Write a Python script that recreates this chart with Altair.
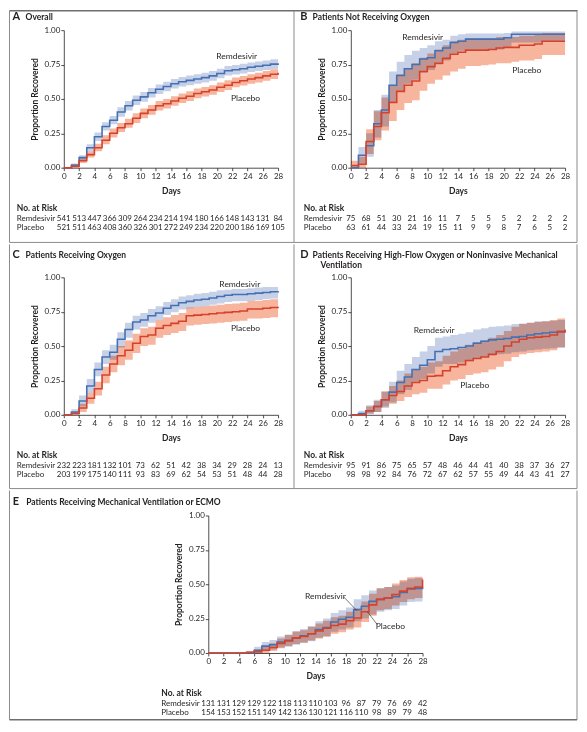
import altair as alt
import pandas as pd

DAYS = list(range(29))
RISK_DAYS = list(range(0, 29, 2))
X_TICKS = list(range(0, 29, 2))
Y_TICKS = [0.0, 0.25, 0.5, 0.75, 1.0]

# ---------- Panel A: Overall ----------
A_REM = [0, 0.02, 0.073, 0.145, 0.225, 0.30, 0.345, 0.405, 0.45, 0.49, 0.515, 0.545, 0.57, 0.59, 0.61,
         0.625, 0.635, 0.645, 0.655, 0.668, 0.685, 0.705, 0.712, 0.72, 0.73, 0.738, 0.745, 0.753, 0.76]
A_REM_LO = [0, 0.01, 0.055, 0.12, 0.195, 0.27, 0.315, 0.37, 0.415, 0.455, 0.48, 0.51, 0.535, 0.555, 0.575,
            0.59, 0.60, 0.61, 0.62, 0.633, 0.65, 0.67, 0.677, 0.685, 0.695, 0.703, 0.71, 0.718, 0.725]
A_REM_HI = [0, 0.03, 0.09, 0.17, 0.255, 0.33, 0.375, 0.44, 0.485, 0.525, 0.55, 0.58, 0.605, 0.625, 0.645,
            0.66, 0.67, 0.68, 0.69, 0.703, 0.72, 0.74, 0.747, 0.755, 0.765, 0.773, 0.78, 0.788, 0.795]
A_PLA = [0, 0.01, 0.05, 0.095, 0.145, 0.20, 0.25, 0.29, 0.32, 0.36, 0.395, 0.42, 0.45, 0.465, 0.485,
         0.505, 0.52, 0.54, 0.552, 0.565, 0.585, 0.60, 0.62, 0.632, 0.645, 0.655, 0.668, 0.68, 0.69]
A_PLA_LO = [0, 0.0, 0.035, 0.075, 0.12, 0.17, 0.22, 0.26, 0.29, 0.325, 0.36, 0.385, 0.415, 0.43, 0.45,
            0.47, 0.485, 0.505, 0.517, 0.53, 0.55, 0.565, 0.585, 0.597, 0.61, 0.62, 0.633, 0.645, 0.655]
A_PLA_HI = [0, 0.02, 0.07, 0.12, 0.175, 0.235, 0.285, 0.325, 0.355, 0.395, 0.43, 0.455, 0.485, 0.50, 0.52,
            0.54, 0.555, 0.575, 0.587, 0.60, 0.62, 0.635, 0.655, 0.667, 0.68, 0.69, 0.703, 0.715, 0.725]
A_RISK_REM = [541, 513, 447, 366, 309, 264, 234, 214, 194, 180, 166, 148, 143, 131, 84]
A_RISK_PLA = [521, 511, 463, 408, 360, 326, 301, 272, 249, 234, 220, 200, 186, 169, 105]

# ---------- Panel B: Not receiving oxygen ----------
B_REM = [0, 0.09, 0.16, 0.32, 0.42, 0.60, 0.67, 0.72, 0.75, 0.79, 0.80, 0.85, 0.87, 0.91, 0.92,
         0.935, 0.935, 0.935, 0.935, 0.935, 0.945, 0.97, 0.97, 0.97, 0.97, 0.97, 0.97, 0.97, 0.97]
B_REM_LO = [0, 0.03, 0.08, 0.22, 0.30, 0.48, 0.55, 0.61, 0.64, 0.69, 0.71, 0.75, 0.78, 0.83, 0.85,
            0.86, 0.86, 0.86, 0.86, 0.86, 0.88, 0.91, 0.91, 0.91, 0.91, 0.92, 0.92, 0.92, 0.92]
B_REM_HI = [0, 0.15, 0.25, 0.42, 0.53, 0.70, 0.77, 0.82, 0.85, 0.87, 0.89, 0.92, 0.93, 0.96, 0.97,
            0.975, 0.975, 0.975, 0.975, 0.975, 0.98, 0.99, 0.99, 0.99, 0.99, 0.99, 0.99, 0.99, 0.99]
B_PLA = [0.015, 0.025, 0.19, 0.30, 0.40, 0.475, 0.555, 0.60, 0.63, 0.70, 0.735, 0.76, 0.795, 0.825, 0.84,
         0.855, 0.855, 0.855, 0.86, 0.87, 0.875, 0.875, 0.89, 0.89, 0.90, 0.92, 0.92, 0.92, 0.92]
B_PLA_LO = [0, 0, 0.10, 0.20, 0.27, 0.34, 0.42, 0.47, 0.49, 0.56, 0.61, 0.64, 0.67, 0.70, 0.72,
            0.74, 0.74, 0.745, 0.75, 0.76, 0.76, 0.77, 0.78, 0.78, 0.79, 0.82, 0.82, 0.82, 0.82]
B_PLA_HI = [0.05, 0.08, 0.28, 0.41, 0.51, 0.60, 0.68, 0.72, 0.76, 0.80, 0.83, 0.86, 0.89, 0.92, 0.93,
            0.94, 0.94, 0.94, 0.94, 0.95, 0.95, 0.95, 0.96, 0.96, 0.97, 0.98, 0.98, 0.98, 0.98]
B_RISK_REM = [75, 68, 51, 30, 21, 16, 11, 7, 5, 5, 5, 2, 2, 2, 2]
B_RISK_PLA = [63, 61, 44, 33, 24, 19, 15, 11, 9, 9, 8, 7, 6, 5, 2]

# ---------- Panel C: Receiving oxygen ----------
C_REM = [0, 0.02, 0.10, 0.21, 0.33, 0.42, 0.455, 0.55, 0.62, 0.675, 0.69, 0.72, 0.74, 0.775, 0.795,
         0.815, 0.825, 0.835, 0.84, 0.85, 0.86, 0.87, 0.875, 0.875, 0.88, 0.885, 0.89, 0.895, 0.90]
C_REM_LO = [0, 0.005, 0.06, 0.16, 0.28, 0.37, 0.40, 0.49, 0.56, 0.62, 0.64, 0.67, 0.69, 0.725, 0.745,
            0.765, 0.775, 0.785, 0.79, 0.80, 0.81, 0.82, 0.825, 0.825, 0.83, 0.835, 0.84, 0.845, 0.85]
C_REM_HI = [0, 0.04, 0.14, 0.26, 0.38, 0.47, 0.51, 0.60, 0.67, 0.72, 0.74, 0.77, 0.79, 0.82, 0.84,
            0.86, 0.87, 0.88, 0.885, 0.895, 0.905, 0.91, 0.915, 0.915, 0.92, 0.925, 0.93, 0.93, 0.935]
C_PLA = [0, 0.01, 0.05, 0.12, 0.19, 0.29, 0.37, 0.43, 0.47, 0.52, 0.57, 0.58, 0.63, 0.65, 0.665,
         0.68, 0.72, 0.725, 0.73, 0.735, 0.74, 0.745, 0.75, 0.755, 0.77, 0.77, 0.775, 0.78, 0.785]
C_PLA_LO = [0, 0, 0.02, 0.08, 0.14, 0.23, 0.31, 0.36, 0.40, 0.45, 0.50, 0.51, 0.56, 0.58, 0.595,
            0.61, 0.65, 0.655, 0.66, 0.665, 0.67, 0.675, 0.68, 0.685, 0.70, 0.70, 0.705, 0.71, 0.715]
C_PLA_HI = [0, 0.02, 0.08, 0.16, 0.24, 0.35, 0.43, 0.50, 0.54, 0.59, 0.63, 0.64, 0.69, 0.71, 0.725,
            0.74, 0.78, 0.785, 0.79, 0.795, 0.80, 0.805, 0.81, 0.815, 0.83, 0.83, 0.835, 0.84, 0.845]
C_RISK_REM = [232, 223, 181, 132, 101, 73, 62, 51, 42, 38, 34, 29, 28, 24, 13]
C_RISK_PLA = [203, 199, 175, 140, 111, 93, 83, 69, 62, 54, 53, 51, 48, 44, 28]

# ---------- Panel D: High-flow oxygen / noninvasive ventilation ----------
D_REM = [0, 0.01, 0.03, 0.06, 0.11, 0.165, 0.235, 0.275, 0.33, 0.36, 0.40, 0.46, 0.475, 0.48, 0.49,
         0.50, 0.52, 0.535, 0.545, 0.55, 0.555, 0.565, 0.57, 0.58, 0.59, 0.595, 0.60, 0.605, 0.61]
D_REM_LO = [0, 0, 0.005, 0.02, 0.05, 0.09, 0.15, 0.18, 0.24, 0.26, 0.30, 0.35, 0.37, 0.37, 0.38,
            0.39, 0.41, 0.42, 0.43, 0.44, 0.445, 0.455, 0.46, 0.47, 0.475, 0.48, 0.485, 0.49, 0.49]
D_REM_HI = [0, 0.03, 0.07, 0.11, 0.17, 0.24, 0.32, 0.37, 0.42, 0.46, 0.50, 0.56, 0.57, 0.58, 0.59,
            0.60, 0.62, 0.63, 0.64, 0.645, 0.65, 0.66, 0.665, 0.67, 0.68, 0.68, 0.685, 0.69, 0.70]
D_PLA = [0, 0, 0.03, 0.06, 0.11, 0.14, 0.17, 0.21, 0.235, 0.25, 0.28, 0.285, 0.32, 0.35, 0.365,
         0.395, 0.41, 0.42, 0.44, 0.46, 0.50, 0.53, 0.55, 0.56, 0.565, 0.57, 0.58, 0.605, 0.62]
D_PLA_LO = [0, 0, 0.01, 0.02, 0.06, 0.08, 0.10, 0.13, 0.15, 0.16, 0.19, 0.19, 0.22, 0.25, 0.26,
            0.29, 0.30, 0.31, 0.33, 0.35, 0.39, 0.42, 0.44, 0.45, 0.455, 0.46, 0.47, 0.49, 0.51]
D_PLA_HI = [0, 0.01, 0.06, 0.10, 0.17, 0.21, 0.25, 0.30, 0.33, 0.35, 0.38, 0.39, 0.43, 0.46, 0.48,
            0.51, 0.53, 0.54, 0.56, 0.58, 0.61, 0.64, 0.66, 0.67, 0.675, 0.68, 0.69, 0.70, 0.70]
D_RISK_REM = [95, 91, 86, 75, 65, 57, 48, 46, 44, 41, 40, 38, 37, 36, 27]
D_RISK_PLA = [98, 98, 92, 84, 76, 72, 67, 62, 57, 55, 49, 44, 43, 41, 27]

# ---------- Panel E: Mechanical ventilation or ECMO ----------
E_REM = [0, 0, 0, 0, 0, 0, 0.02, 0.05, 0.06, 0.08, 0.09, 0.11, 0.125, 0.14, 0.17,
         0.185, 0.225, 0.245, 0.26, 0.315, 0.34, 0.375, 0.39, 0.40, 0.41, 0.44, 0.465, 0.47, 0.48]
E_REM_LO = [0, 0, 0, 0, 0, 0, 0.0, 0.02, 0.025, 0.04, 0.045, 0.06, 0.075, 0.085, 0.11,
            0.12, 0.155, 0.17, 0.185, 0.23, 0.25, 0.28, 0.30, 0.31, 0.32, 0.345, 0.37, 0.375, 0.385]
E_REM_HI = [0, 0, 0, 0, 0, 0, 0.045, 0.08, 0.095, 0.12, 0.135, 0.16, 0.175, 0.195, 0.23,
            0.25, 0.29, 0.31, 0.33, 0.39, 0.42, 0.455, 0.47, 0.48, 0.49, 0.52, 0.54, 0.545, 0.555]
E_PLA = [0, 0, 0, 0, 0, 0.005, 0.01, 0.02, 0.04, 0.07, 0.09, 0.11, 0.12, 0.14, 0.16,
         0.18, 0.20, 0.21, 0.235, 0.255, 0.30, 0.35, 0.39, 0.40, 0.425, 0.45, 0.47, 0.48, 0.535]
E_PLA_LO = [0, 0, 0, 0, 0, 0, 0, 0, 0.015, 0.035, 0.05, 0.065, 0.075, 0.09, 0.105,
            0.12, 0.14, 0.15, 0.17, 0.185, 0.225, 0.27, 0.31, 0.32, 0.345, 0.37, 0.39, 0.40, 0.41]
E_PLA_HI = [0, 0, 0, 0, 0, 0.015, 0.025, 0.045, 0.07, 0.105, 0.13, 0.155, 0.165, 0.19, 0.215,
            0.235, 0.26, 0.27, 0.30, 0.325, 0.375, 0.43, 0.47, 0.48, 0.505, 0.53, 0.55, 0.555, 0.56]
E_RISK_REM = [131, 131, 129, 129, 122, 118, 113, 110, 103, 96, 87, 79, 76, 69, 42]
E_RISK_PLA = [154, 153, 152, 151, 149, 142, 136, 130, 121, 116, 110, 98, 89, 79, 48]

# ---------- styling ----------
FONT = "Lato"
INK = "#231f20"
BLUE_LINE = "#4571b4"
RED_LINE = "#d6412b"
BLUE_BAND = "#c6d1e8"
RED_BAND = "#f7b59e"
FRAME = "#8c8c8c"

W, H = 215, 138
XS = alt.Scale(domain=[0, 28], nice=False, zero=False)
YS = alt.Scale(domain=[0, 1], nice=False, zero=False)
XAX = alt.Axis(values=X_TICKS, title="Days", format="d")
YAX = alt.Axis(values=Y_TICKS, title="Proportion Recovered", format=".2f")
ONE = pd.DataFrame({"k": [0]})

ROW_HEAD, ROW_REM, ROW_PLA = -0.293, -0.370, -0.438
ROW_LABEL_X = -6.15


def xf(field):
    return alt.X(field, type="quantitative", scale=XS, axis=XAX)


def yf(field):
    return alt.Y(field, type="quantitative", scale=YS, axis=YAX)


def xd(v):
    return alt.XDatum(v, type="quantitative", scale=XS, axis=XAX)


def yd(v):
    return alt.YDatum(v, type="quantitative", scale=YS, axis=YAX)


def rule_v(x, y1, y2, color=FRAME, width=1.0, opacity=1.0):
    return alt.Chart(ONE).mark_rule(color=color, strokeWidth=width, opacity=opacity).encode(
        x=alt.value(x), y=alt.value(y1), y2=alt.value(y2))


def rule_h(y, x1, x2, color=FRAME, width=1.0, opacity=1.0):
    return alt.Chart(ONE).mark_rule(color=color, strokeWidth=width, opacity=opacity).encode(
        x=alt.value(x1), x2=alt.value(x2), y=alt.value(y))


def text_at(txt, day, v, size=8.0, weight="normal", align="left"):
    return alt.Chart(ONE).mark_text(
        text=txt, font=FONT, fontSize=size, fontWeight=weight, align=align,
        baseline="middle", color=INK).encode(x=xd(day), y=yd(v))


def panel(rem, rem_lo, rem_hi, pla, pla_lo, pla_hi, risk_rem, risk_pla,
          letter, lines, letter_x, text_x, title_vs, lab_rem, lab_pla, extra=()):
    dr = pd.DataFrame({"day": DAYS, "est": rem, "lo": rem_lo, "hi": rem_hi})
    dp = pd.DataFrame({"day": DAYS, "est": pla, "lo": pla_lo, "hi": pla_hi})

    band_r = alt.Chart(dr).mark_area(interpolate="step-after", color=BLUE_BAND, blend="multiply").encode(
        x=xf("day"), y=yf("lo"), y2="hi:Q")
    band_p = alt.Chart(dp).mark_area(interpolate="step-after", color=RED_BAND, blend="multiply").encode(
        x=xf("day"), y=yf("lo"), y2="hi:Q")
    line_r = alt.Chart(dr).mark_line(interpolate="step-after", color=BLUE_LINE, strokeWidth=1.6).encode(
        x=xf("day"), y=yf("est"))
    line_p = alt.Chart(dp).mark_line(interpolate="step-after", color=RED_LINE, strokeWidth=1.6).encode(
        x=xf("day"), y=yf("est"))

    labels = alt.Chart(pd.DataFrame({
        "day": [lab_rem[0], lab_pla[0]], "v": [lab_rem[1], lab_pla[1]],
        "t": ["Remdesivir", "Placebo"]})).mark_text(
        font=FONT, fontSize=8.5, color=INK, align="center", baseline="middle").encode(
        x=xf("day"), y=yf("v"), text="t:N")

    tab_r = alt.Chart(pd.DataFrame({"day": RISK_DAYS, "n": risk_rem})).mark_text(
        font=FONT, fontSize=8, color=INK, align="center", baseline="middle").encode(
        x=xf("day"), y=yd(ROW_REM), text="n:Q")
    tab_p = alt.Chart(pd.DataFrame({"day": RISK_DAYS, "n": risk_pla})).mark_text(
        font=FONT, fontSize=8, color=INK, align="center", baseline="middle").encode(
        x=xf("day"), y=yd(ROW_PLA), text="n:Q")

    layers = [band_r, band_p, line_r, line_p, labels, tab_r, tab_p,
              text_at("No. at Risk", ROW_LABEL_X, ROW_HEAD, size=8.5, weight="bold"),
              text_at("Remdesivir", ROW_LABEL_X, ROW_REM),
              text_at("Placebo", ROW_LABEL_X, ROW_PLA),
              text_at(letter, letter_x, title_vs[0], size=11, weight="bold")]
    for i, ln in enumerate(lines):
        layers.append(text_at(ln, text_x[i], title_vs[i], size=8.5, weight="bold"))
    layers.extend(extra)
    return layers


leaders = alt.Chart(pd.DataFrame({
    "x1": [17.75, 22.1], "y1": [0.405, 0.205], "x2": [19.4, 20.8], "y2": [0.309, 0.30]})).mark_rule(
    color=INK, strokeWidth=0.6).encode(x=xf("x1"), y=yf("y1"), x2="x2:Q", y2="y2:Q")

# frame / dividers (pixel offsets relative to each row's first view)
decor1 = [rule_v(-54.5, -19.5, 213), rule_h(-19.5, -54.5, 515.5, color="#6e6e6e", width=1.5),
          rule_v(515, -19.5, 213), rule_h(213, -54.5, 515), rule_v(231, -19.5, 213)]
decor2 = [rule_v(-54.5, -33, 212), rule_v(515, -33, 212), rule_h(212, -54.5, 515), rule_v(231, -33, 212)]
decor3 = [rule_v(-54.5, -25, 205), rule_v(515, -25, 205), rule_h(205, -54.5, 515, color="#6e6e6e", width=1.5)]

pA = alt.layer(*panel(A_REM, A_REM_LO, A_REM_HI, A_PLA, A_PLA_LO, A_PLA_HI, A_RISK_REM, A_RISK_PLA,
                      "A", ["Overall"], -6.7, [-5.0], [1.094], (22.6, 0.81), (23.75, 0.51)),
               *decor1).properties(width=W, height=H)
pB = alt.layer(*panel(B_REM, B_REM_LO, B_REM_HI, B_PLA, B_PLA_LO, B_PLA_HI, B_RISK_REM, B_RISK_PLA,
                      "B", ["Patients Not Receiving Oxygen"], -6.6, [-4.99], [1.094],
                      (9.4, 0.95), (23.0, 0.71))).properties(width=W, height=H)
pC = alt.layer(*panel(C_REM, C_REM_LO, C_REM_HI, C_PLA, C_PLA_LO, C_PLA_HI, C_RISK_REM, C_RISK_PLA,
                      "C", ["Patients Receiving Oxygen"], -6.7, [-4.99], [1.162],
                      (23.0, 0.95), (23.75, 0.63)),
               *decor2).properties(width=W, height=H)
pD = alt.layer(*panel(D_REM, D_REM_LO, D_REM_HI, D_PLA, D_PLA_LO, D_PLA_HI, D_RISK_REM, D_RISK_PLA,
                      "D", ["Patients Receiving High-Flow Oxygen or Noninvasive Mechanical", "Ventilation"],
                      -6.6, [-4.99, -3.95], [1.162, 1.092],
                      (10.9, 0.62), (16.2, 0.22))).properties(width=W, height=H)
pE = alt.layer(*panel(E_REM, E_REM_LO, E_REM_HI, E_PLA, E_PLA_LO, E_PLA_HI, E_RISK_REM, E_RISK_PLA,
                      "E", ["Patients Receiving Mechanical Ventilation or ECMO"], -25.55, [-23.8], [1.101],
                      (15.3, 0.415), (23.8, 0.193), extra=[leaders])).properties(width=W, height=H)

spacer = alt.layer(
    alt.Chart(ONE).mark_rule(opacity=0).encode(x=alt.value(0), y=alt.value(0), y2=alt.value(1)),
    *decor3).properties(width=145, height=H)

row1 = alt.hconcat(pA, pB, spacing=73, bounds="flush")
row2 = alt.hconcat(pC, pD, spacing=73, bounds="flush")
row3 = alt.hconcat(spacer, pE, spacing=0, bounds="flush")

chart = alt.vconcat(row1, row2, row3, spacing=0).properties(
    padding=0, background="white"
).configure_axis(
    labelFont=FONT, labelFontSize=8, labelColor=INK, titleFont=FONT, titleFontSize=8.5,
    titleFontWeight="bold", titleColor=INK, tickSize=3, tickColor=INK, tickWidth=0.8,
    domainColor=INK, domainWidth=0.8, grid=False, labelFlush=False, labelOverlap=False
).configure_axisX(labelPadding=2, titlePadding=6).configure_axisY(labelPadding=1, titlePadding=5
).configure_view(stroke=None)

chart.save("out.html", embed_options={"renderer": "svg", "actions": False})
